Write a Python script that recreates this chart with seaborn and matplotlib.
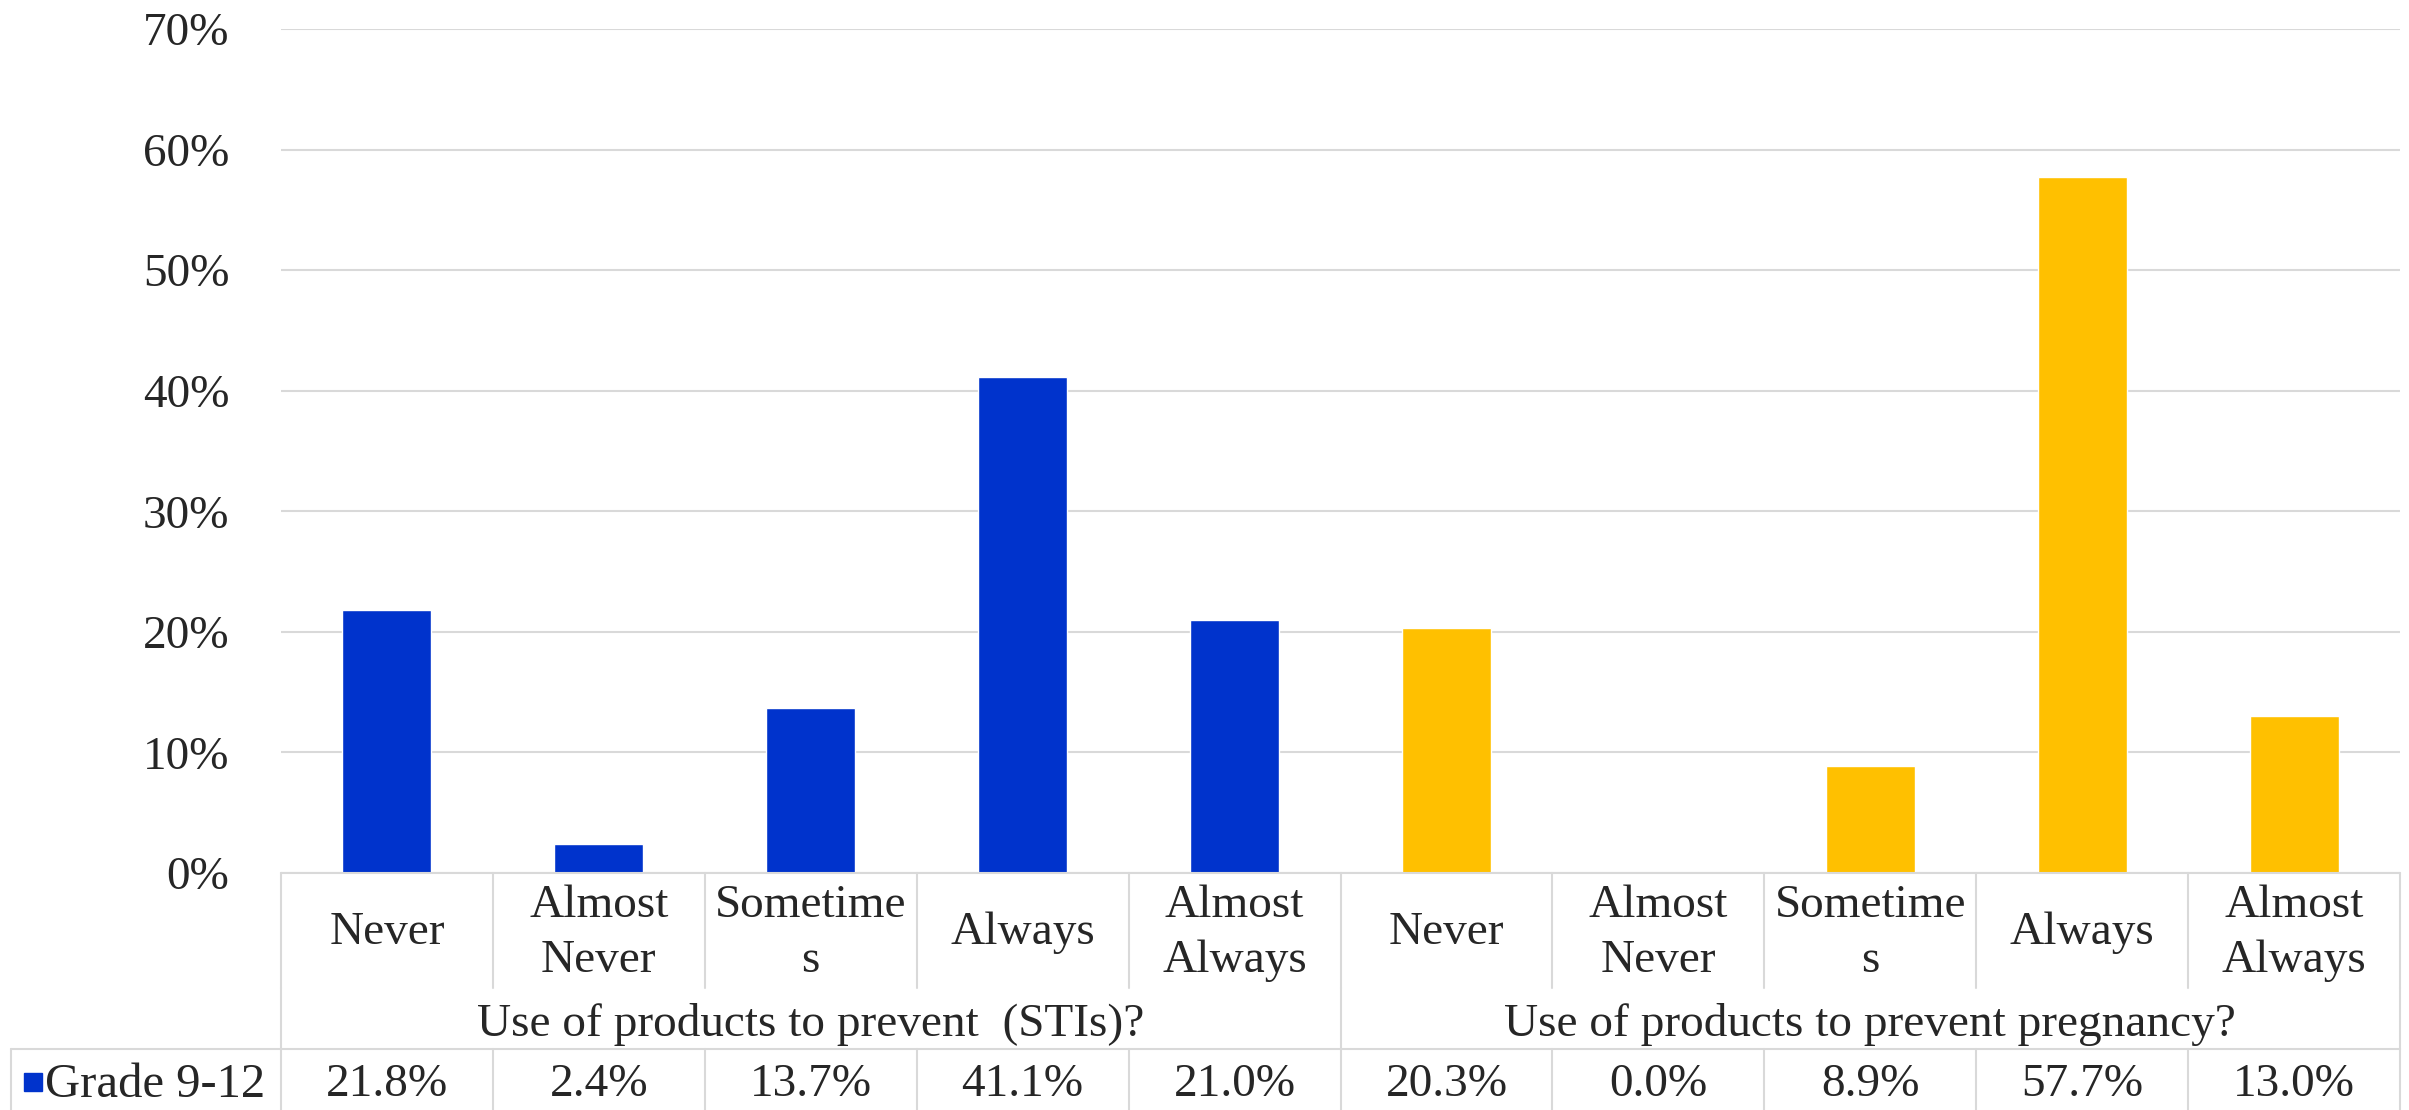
import numpy as np
import pandas as pd
import matplotlib.pyplot as plt
import matplotlib.transforms as mtransforms
import matplotlib.ticker as mticker
from matplotlib.lines import Line2D
import seaborn as sns

# Chart data
responses = ['Never', 'Almost\nNever', 'Sometime\ns', 'Always', 'Almost\nAlways']
groups = ['Use of products to prevent  (STIs)?', 'Use of products to prevent pregnancy?']
sti_values = [21.8, 2.4, 13.7, 41.1, 21.0]
pregnancy_values = [20.3, 0.0, 8.9, 57.7, 13.0]
series_name = 'Grade 9-12'
y_ticks = [0, 10, 20, 30, 40, 50, 60, 70]

group_colors = ['#0033CC', '#FFC000']
grid_color = '#D9D9D9'

# Long table for seaborn
df = pd.DataFrame({
    'slot': [f'{g}|{r}' for g in groups for r in responses],
    'response': responses * 2,
    'group': [groups[0]] * 5 + [groups[1]] * 5,
    'value': sti_values + pregnancy_values,
})

sns.set_style('white')
plt.rcParams['font.family'] = ['Liberation Serif', 'DejaVu Serif']
FS = 34

W, H = 2409, 1110
fig = plt.figure(figsize=(W / 100, H / 100), dpi=100)

# layout in pixels (from top-left)
ax_left, ax_right, ax_zero, ax_top = 281, 2400, 873, 29
ax = fig.add_axes([ax_left / W, (H - ax_zero) / H, (ax_right - ax_left) / W, (ax_zero - ax_top) / H])

sns.barplot(data=df, x='slot', y='value', hue='group', palette=group_colors,
            dodge=False, width=0.42, legend=False, order=list(df['slot']), ax=ax,
            saturation=1)

ax.set_xlim(-0.5, len(df) - 0.5)
ax.set_ylim(0, 70)
ax.set_yticks(y_ticks)
ax.yaxis.set_major_formatter(mticker.FuncFormatter(lambda v, _: f'{v:.0f}%'))
ax.tick_params(axis='y', length=0, pad=37, labelsize=FS)
ax.set_xticks([])
ax.set_xlabel('')
ax.set_ylabel('')
ax.grid(axis='y', color=grid_color, linewidth=1.5)
ax.set_axisbelow(True)
for s in ax.spines.values():
    s.set_visible(False)


def fy(py):
    return (H - py) / H


def fx(px):
    return px / W


blend = mtransforms.blended_transform_factory(ax.transData, fig.transFigure)


def hline(x0, x1, py, tr):
    fig.add_artist(Line2D([x0, x1], [fy(py), fy(py)], transform=tr, color=grid_color, linewidth=1.5))


def vline(x, py0, py1, tr):
    fig.add_artist(Line2D([x, x], [fy(py0), fy(py1)], transform=tr, color=grid_color, linewidth=1.5))


row_tick, row_group, row_data, row_end = 873, 988, 1049, 1110
n = len(df)

# table lines
hline(-0.5, n - 0.5, row_tick, blend)
hline(fx(11), fx(ax_right), row_data, fig.transFigure)
for i in range(n + 1):
    vline(i - 0.5, row_tick, row_group, blend)
    vline(i - 0.5, row_data, row_end, blend)
for i in [0, 5, 10]:
    vline(i - 0.5, row_group, row_data, blend)
vline(fx(11), row_data, row_end, fig.transFigure)

# category labels
for i, (resp, val) in enumerate(zip(df['response'], df['value'])):
    fig.text(i, fy(933), resp, transform=blend, ha='center', va='center',
             fontsize=FS, linespacing=1.37)
    fig.text(i, fy(1085), f'{val:.1f}%', transform=blend, ha='center', va='center', fontsize=FS)

for gi, g in enumerate(groups):
    fig.text(gi * 5 + 2, fy(1024), g, transform=blend, ha='center', va='center', fontsize=FS)

# legend key in data table
fig.add_artist(Line2D([fx(33)], [fy(1082)], marker='s', markersize=12.5, color=group_colors[0],
                      linestyle='none', transform=fig.transFigure))
fig.text(fx(45), fy(1085), series_name, ha='left', va='center', fontsize=35)

fig.savefig('out.png', dpi=100)
